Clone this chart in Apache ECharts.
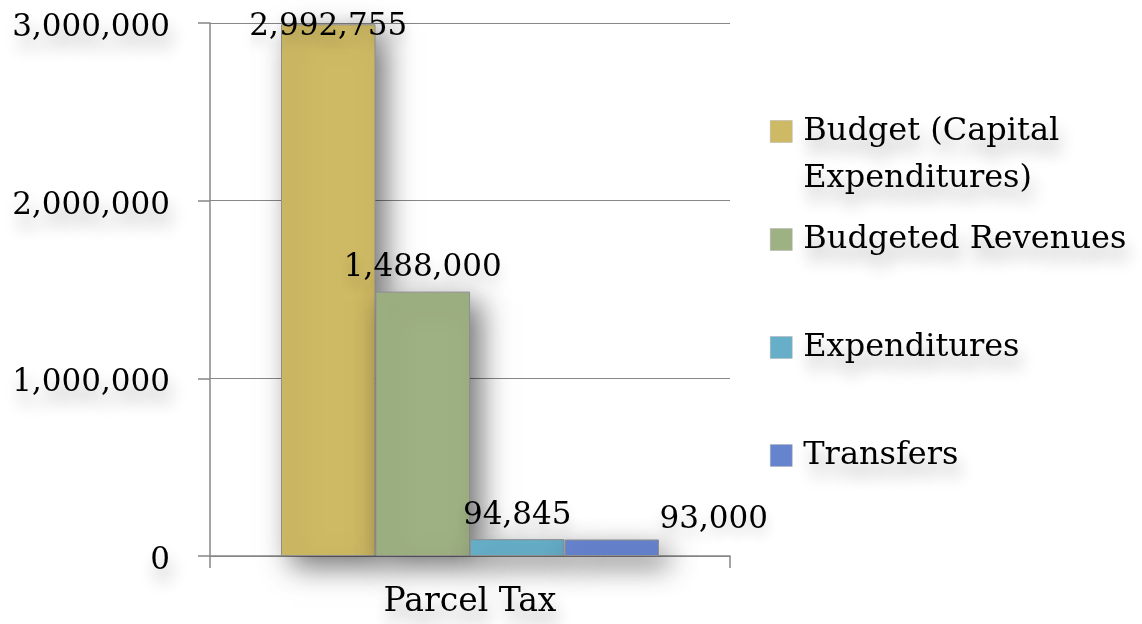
<!DOCTYPE html>
<html>
<head>
<meta charset="utf-8">
<script src="https://cdn.jsdelivr.net/npm/echarts@6/dist/echarts.min.js"></script>
<style>html,body{margin:0;padding:0;background:#fff;}#c{width:1142px;height:624px;}</style>
</head>
<body>
<div id="c"></div>
<script>
const categories = ['Parcel Tax'];
const seriesNames = ['Budget (Capital Expenditures)', 'Budgeted Revenues', 'Expenditures', 'Transfers'];
const budgetCapital = [2992755];
const budgetedRevenues = [1488000];
const expenditures = [94845];
const transfers = [93000];
const yTicks = [0, 1000000, 2000000, 3000000];

const colors = ['#CEB964', '#9EB182', '#67AFC9', '#6683CE'];
const values = [budgetCapital, budgetedRevenues, expenditures, transfers];
const fmt = v => Number(v).toLocaleString('en-US');
const serif = 'DejaVu Serif';

const labelCfg = [
  {position: 'top', distance: 0, offset: [0, 18]},
  {position: 'top', distance: 8, offset: [0, 0]},
  {position: 'top', distance: 8, offset: [0, 0]},
  {position: 'top', distance: 4, offset: [102, 0]}
];

const series = seriesNames.map((n, i) => ({
  name: n,
  type: 'bar',
  data: values[i],
  barWidth: 94.5,
  barGap: '0%',
  itemStyle: {
    color: colors[i],
    borderColor: '#8f8f8f',
    borderWidth: 1,
    shadowColor: 'rgba(0,0,0,0.55)',
    shadowBlur: 28,
    shadowOffsetX: 10,
    shadowOffsetY: 10
  },
  label: {
    show: true,
    position: labelCfg[i].position,
    distance: labelCfg[i].distance,
    offset: labelCfg[i].offset,
    formatter: p => fmt(p.value),
    fontFamily: serif,
    fontSize: 31,
    color: '#000',
    textShadowColor: 'rgba(0,0,0,0.18)',
    textShadowBlur: 12,
    textShadowOffsetY: 8
  },
  z: 2 + i
}));

const legendTops = [56, 211, 319, 427];
const legendTextShadow = {
  textShadowColor: 'rgba(0,0,0,0.32)',
  textShadowBlur: 16,
  textShadowOffsetX: 3,
  textShadowOffsetY: 13
};
const legends = seriesNames.map((n, i) => ({
  data: [n],
  left: 765,
  top: legendTops[i],
  orient: 'vertical',
  itemWidth: 22,
  itemHeight: 22,
  icon: 'rect',
  selectedMode: false,
  itemStyle: {borderColor: '#b0b0b0', borderWidth: 0.5},
  formatter: name => name === 'Budget (Capital Expenditures)' ? ' \nBudget (Capital\nExpenditures)' : name,
  textStyle: Object.assign({
    fontFamily: serif,
    fontSize: 32,
    color: '#000',
    lineHeight: 47,
    padding: [0, 0, 0, 6]
  }, legendTextShadow)
}));

const chart = echarts.init(document.getElementById('c'), null, {renderer: 'canvas'});
chart.setOption({
  backgroundColor: '#fff',
  animation: false,
  grid: {left: 210, right: 412, top: 23, bottom: 68, containLabel: false},
  legend: legends,
  xAxis: {
    type: 'category',
    data: categories,
    boundaryGap: true,
    axisLine: {lineStyle: {color: '#878787', width: 1.5}},
    axisTick: {show: true, length: 12, lineStyle: {color: '#878787', width: 1.5}},
    axisLabel: Object.assign({
      fontFamily: serif, fontSize: 33, color: '#000', margin: 30
    }, legendTextShadow)
  },
  yAxis: {
    type: 'value',
    min: yTicks[0],
    max: yTicks[yTicks.length - 1],
    interval: yTicks[1] - yTicks[0],
    axisLine: {show: true, lineStyle: {color: '#878787', width: 1.5}},
    axisTick: {show: true, length: 12, lineStyle: {color: '#878787', width: 1.5}},
    splitLine: {lineStyle: {color: '#878787', width: 1.2}},
    axisLabel: Object.assign({
      fontFamily: serif, fontSize: 31, color: '#000', margin: 40,
      formatter: v => '{n|' + fmt(v) + '}',
      rich: {n: {fontFamily: serif, fontSize: 31, color: '#000', padding: [10, 0, 0, 0]}}
    }, legendTextShadow)
  },
  series: series
});
</script>
</body>
</html>
